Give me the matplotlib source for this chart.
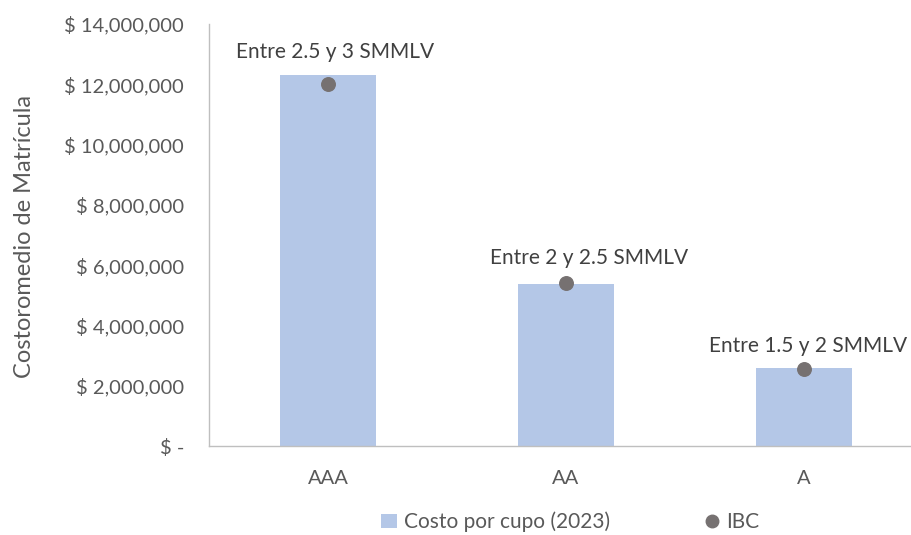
import matplotlib

matplotlib.use("Agg")
import matplotlib.pyplot as plt  # noqa: E402
from matplotlib.lines import Line2D  # noqa: E402
from matplotlib.patches import Patch  # noqa: E402

categories = ["AAA", "AA", "A"]
costo_cupo = [12_320_000, 5_380_000, 2_590_000]
ibc = [12_000_000, 5_410_000, 2_540_000]
ibc_labels = ["Entre 2.5 y 3 SMMLV", "Entre 2 y 2.5 SMMLV", "Entre 1.5 y 2 SMMLV"]
yticks = [0, 2_000_000, 4_000_000, 6_000_000, 8_000_000, 10_000_000, 12_000_000, 14_000_000]

BAR = "#b4c7e7"
DOT = "#767171"
TXT = "#595959"

plt.rcParams["font.family"] = ["Lato", "DejaVu Sans"]


def money(v):
    return "$ -" if v == 0 else f"$ {v:,.0f}"


fig = plt.figure(figsize=(9.11, 5.35), dpi=100)
# axes spans pixel x 209..923 (slightly past the right edge), y 24..446
ax = fig.add_axes([209 / 911, (535 - 446) / 535, 714 / 911, 422 / 535])

x = list(range(len(categories)))
ax.bar(x, costo_cupo, width=0.4, color=BAR, zorder=2)
ax.scatter(x, ibc, s=95, color=DOT, zorder=3)

# label offsets in points (Excel places them a bit off-centre)
offs = [(5, 16), (16.5, 18.5), (3, 16)]
for xi, top, lab, (dx, dy) in zip(x, costo_cupo, ibc_labels, offs):
    ax.annotate(lab, (xi, top), xytext=(dx, dy), textcoords="offset points",
                ha="center", va="center", fontsize=15, color="#404040")

ax.set_xlim(-0.5, 2.5)
ax.set_ylim(0, 14_000_000)
ax.set_yticks(yticks)
ax.set_yticklabels([money(v) for v in yticks])
ax.set_xticks(x)
ax.set_xticklabels(categories)
ax.tick_params(axis="both", length=0, labelsize=14.5, labelcolor=TXT)
ax.tick_params(axis="y", pad=18)
ax.tick_params(axis="x", pad=17)

for s in ("top", "right"):
    ax.spines[s].set_visible(False)
for s in ("left", "bottom"):
    ax.spines[s].set_color("#bfbfbf")
    ax.spines[s].set_linewidth(1.0)

fig.text(25 / 911, 1 - 237 / 535, "Costoromedio de Matrícula", rotation=90,
         ha="center", va="center", fontsize=17, color=TXT)

handles = [
    Patch(facecolor=BAR, edgecolor="none", label="Costo por cupo (2023)"),
    Line2D([], [], marker="o", ls="none", color=DOT, markersize=9, label="IBC"),
]
fig.legend(handles=handles, loc="center", bbox_to_anchor=(570 / 911, 1 - 522 / 535),
           ncol=2, frameon=False, fontsize=15, labelcolor=TXT, columnspacing=4.5,
           handlelength=0.8, handletextpad=0.3)

fig.savefig("out.png", dpi=100)
